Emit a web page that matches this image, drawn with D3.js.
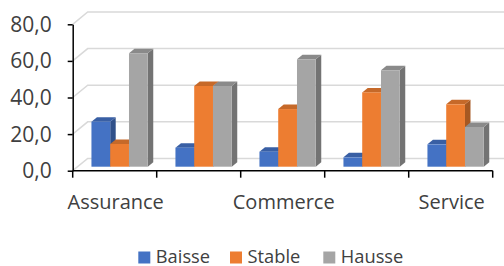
<!DOCTYPE html>
<html><head><meta charset="utf-8">
<script src="https://cdn.jsdelivr.net/npm/d3@7"></script>
<style>body{margin:0;background:#fff}svg{display:block}text{font-family:"Open Sans",sans-serif}</style>
</head><body><svg id="c" width="504" height="266"></svg>
<script>
const categories = ["Assurance", "Banque", "Commerce", "Industrie", "Service"];
const shownLabels = ["Assurance", "Commerce", "Service"];
const series = ["Baisse", "Stable", "Hausse"];
const baisse = [24.6, 10.4, 8.2, 5.1, 12.2];
const stable = [12.4, 44.1, 31.5, 40.6, 34.1];
const hausse = [62.0, 44.1, 58.7, 52.7, 21.7];
const yTicks = [0, 20, 40, 60, 80];
const colors = ["#4472C4", "#ED7D31", "#A5A5A5"];

(function () {
const values = [baisse, stable, hausse];
const svg = d3.select("#c");
const pLeft = 72.7, pRight = 492.7, pBottom = 170.7, pTop = 24.3;
const depthX = 15, depthY = -12.3;
const barOffX = 4.9, barOffY = -4;
const barDX = 5.5, barDY = -4.5;

const x = d3.scaleBand().domain(categories).range([pLeft, pRight]);
const x1 = d3.scaleBand().domain(series).range([13.85, x.bandwidth() - 13.85]);
const y = d3.scaleLinear().domain([0, 80]).range([pBottom, pTop]);
const fmt = d3.formatLocale({decimal: ",", thousands: " ", grouping: [3], currency: ["", "€"]}).format(".1f");

svg.append("g").selectAll("path").data(yTicks).join("path")
  .attr("d", v => `M${pLeft},${y(v)}L${pLeft + depthX},${y(v) + depthY}L${pRight + depthX},${y(v) + depthY}`)
  .attr("fill", "none").attr("stroke", "#d9d9d9").attr("stroke-width", 1.5);

const gBars = svg.append("g");
categories.forEach((c, i) => {
  series.forEach((s, j) => {
    const v = values[j][i];
    const col = d3.color(colors[j]);
    const x0 = x(c) + x1(s) + barOffX, w = x1.bandwidth();
    const yb = y(0) + barOffY, yt = y(v) + barOffY;
    gBars.append("path")
      .attr("d", `M${x0 + w},${yt}L${x0 + w + barDX},${yt + barDY}L${x0 + w + barDX},${yb + barDY}L${x0 + w},${yb}Z`)
      .attr("fill", col.darker(1.0));
    gBars.append("path")
      .attr("d", `M${x0},${yt}L${x0 + barDX},${yt + barDY}L${x0 + w + barDX},${yt + barDY}L${x0 + w},${yt}Z`)
      .attr("fill", col.darker(0.5));
    gBars.append("rect").attr("x", x0).attr("y", yt).attr("width", w).attr("height", yb - yt)
      .attr("fill", colors[j]);
  });
});

const yAxis = svg.append("g").attr("transform", `translate(${pLeft},0)`)
  .call(d3.axisLeft(y).tickValues(yTicks).tickSize(5).tickSizeOuter(0).tickPadding(16).tickFormat(fmt));
yAxis.select(".domain").attr("stroke", "#000").attr("stroke-width", 1.5);
yAxis.selectAll(".tick line").attr("stroke", "#000").attr("stroke-width", 1.5);
yAxis.selectAll("text").attr("font-size", 21).attr("fill", "#404040").attr("font-family", "Open Sans").attr("dy", "0.33em");

const gx = svg.append("g");
gx.append("line").attr("x1", pLeft).attr("x2", pRight).attr("y1", pBottom).attr("y2", pBottom)
  .attr("stroke", "#000").attr("stroke-width", 1.5);
const bounds = categories.map(c => x(c)).concat([pRight]);
gx.selectAll(".bt").data(bounds).join("line")
  .attr("x1", d => d).attr("x2", d => d).attr("y1", pBottom).attr("y2", pBottom + 7)
  .attr("stroke", "#000").attr("stroke-width", 1.5);
gx.selectAll(".lbl").data(categories.filter(c => shownLabels.includes(c))).join("text")
  .attr("x", c => x(c) + x.bandwidth() / 2 + 1).attr("y", 208.7)
  .attr("text-anchor", "middle").attr("font-size", 20).attr("fill", "#404040").text(c => c);

const legX = [138.3, 230, 323.3];
const leg = svg.append("g");
series.forEach((s, j) => {
  leg.append("rect").attr("x", legX[j]).attr("y", 251.5).attr("width", 12).attr("height", 12).attr("fill", colors[j]);
  leg.append("text").attr("x", legX[j] + 17.5).attr("y", 262.5).attr("font-size", 18.3).attr("fill", "#404040").text(s);
});
})();
</script></body></html>
